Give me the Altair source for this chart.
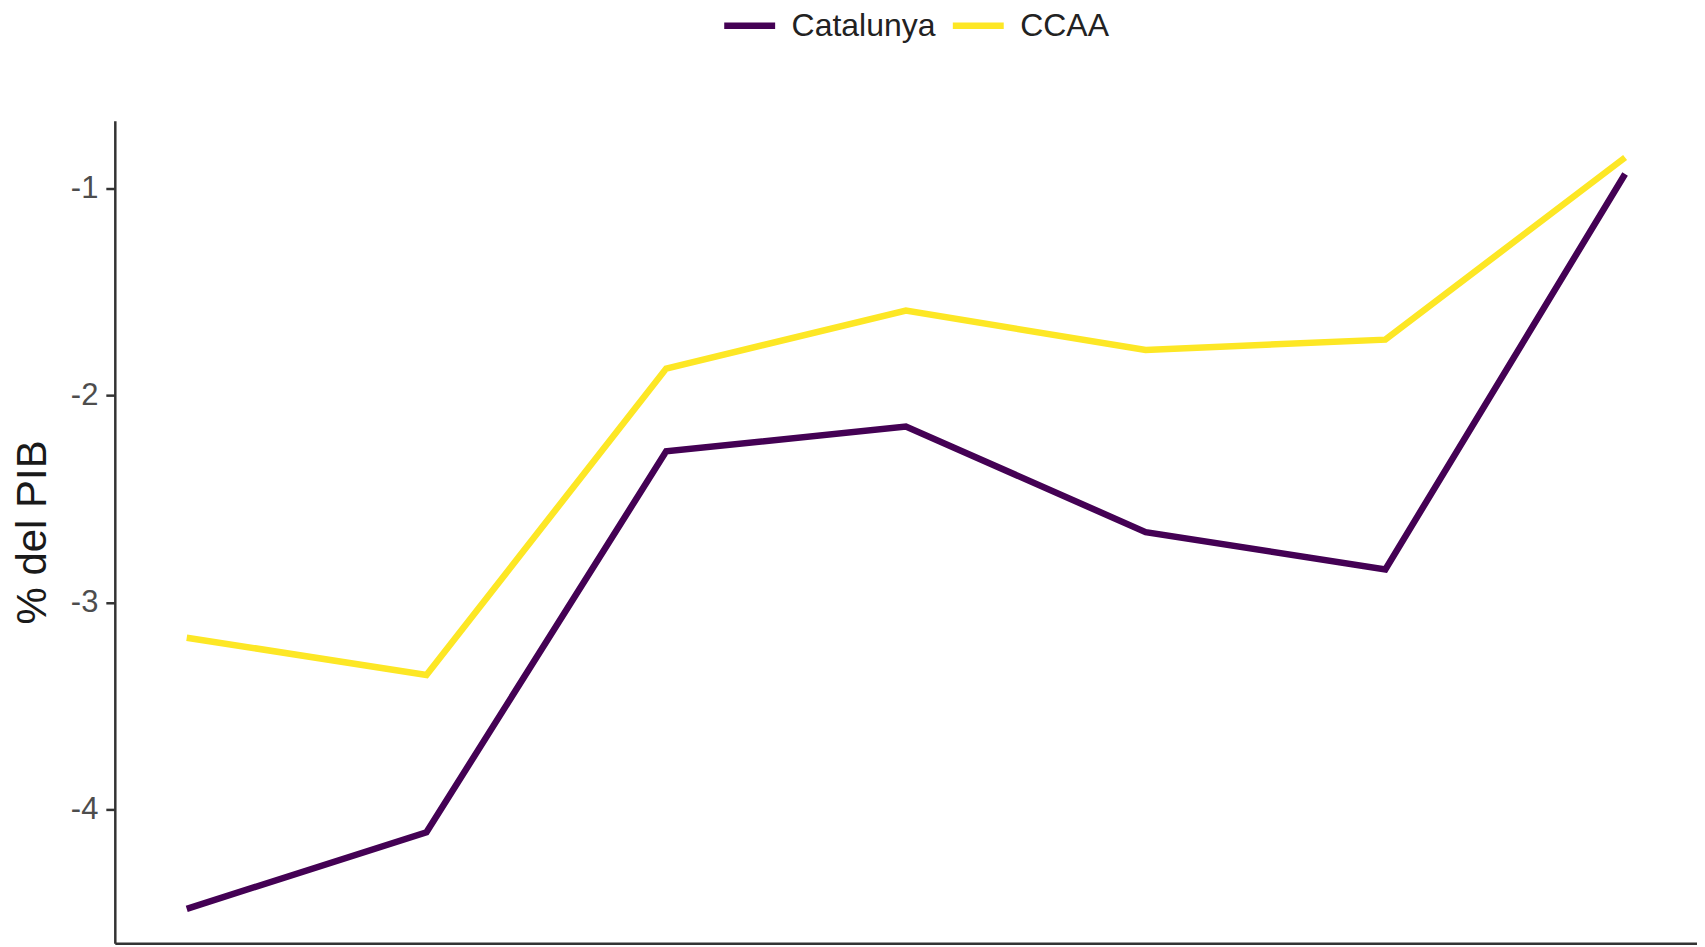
import altair as alt
import pandas as pd

years = [2010, 2011, 2012, 2013, 2014, 2015, 2016]
catalunya = [-4.48, -4.11, -2.27, -2.15, -2.66, -2.84, -0.93]
ccaa = [-3.17, -3.35, -1.87, -1.59, -1.78, -1.73, -0.85]
series_names = ["Catalunya", "CCAA"]
series_colors = ["#440154", "#FDE725"]

df = pd.concat([
    pd.DataFrame({"any": years, "valor": catalunya, "serie": "Catalunya"}),
    pd.DataFrame({"any": years, "valor": ccaa, "serie": "CCAA"}),
])

FONT = "Liberation Sans"

chart = alt.Chart(df).mark_line(strokeWidth=6.5, strokeCap="butt").encode(
    x=alt.X("any:Q",
            scale=alt.Scale(domain=[2009.7, 2016.3], nice=False, zero=False),
            axis=alt.Axis(labels=False, ticks=False, title=None, grid=False,
                          domainColor="#333333", domainWidth=2.5)),
    y=alt.Y("valor:Q",
            scale=alt.Scale(domain=[-4.646, -0.672], nice=False, zero=False),
            axis=alt.Axis(values=[-1, -2, -3, -4], grid=False,
                          labelExpr="datum.value < 0 ? '-' + format(-datum.value, 'd') : format(datum.value, 'd')",
                          title="% del PIB",
                          domainColor="#333333", domainWidth=2.5,
                          tickColor="#333333", tickWidth=2.5, tickSize=9,
                          labelPadding=8, labelFontSize=31, labelColor="#4D4D4D",
                          labelFont=FONT,
                          titleFont=FONT, titleFontSize=42, titleFontWeight="normal",
                          titleColor="#1a1a1a", titleX=-82, titleY=412,
                          titleAngle=270, titleAlign="center", titleBaseline="middle")),
    color=alt.Color("serie:N",
                    scale=alt.Scale(domain=series_names, range=series_colors),
                    sort=series_names,
                    legend=alt.Legend(title=None, orient="none", direction="horizontal",
                                      legendX=607, legendY=-124,
                                      symbolType="stroke", symbolSize=2601,
                                      symbolStrokeWidth=6.5, labelOffset=13,
                                      columnPadding=3, labelFontSize=32,
                                      labelFont=FONT, labelColor="#222222",
                                      padding=0)),
).properties(
    width=1585, height=824,
    autosize=alt.AutoSizeParams(type="none"),
    padding={"left": 107, "top": 112, "right": 0, "bottom": 3},
).configure_view(stroke=None)

chart.save("out.html", embed_options={"renderer": "svg", "actions": False})
